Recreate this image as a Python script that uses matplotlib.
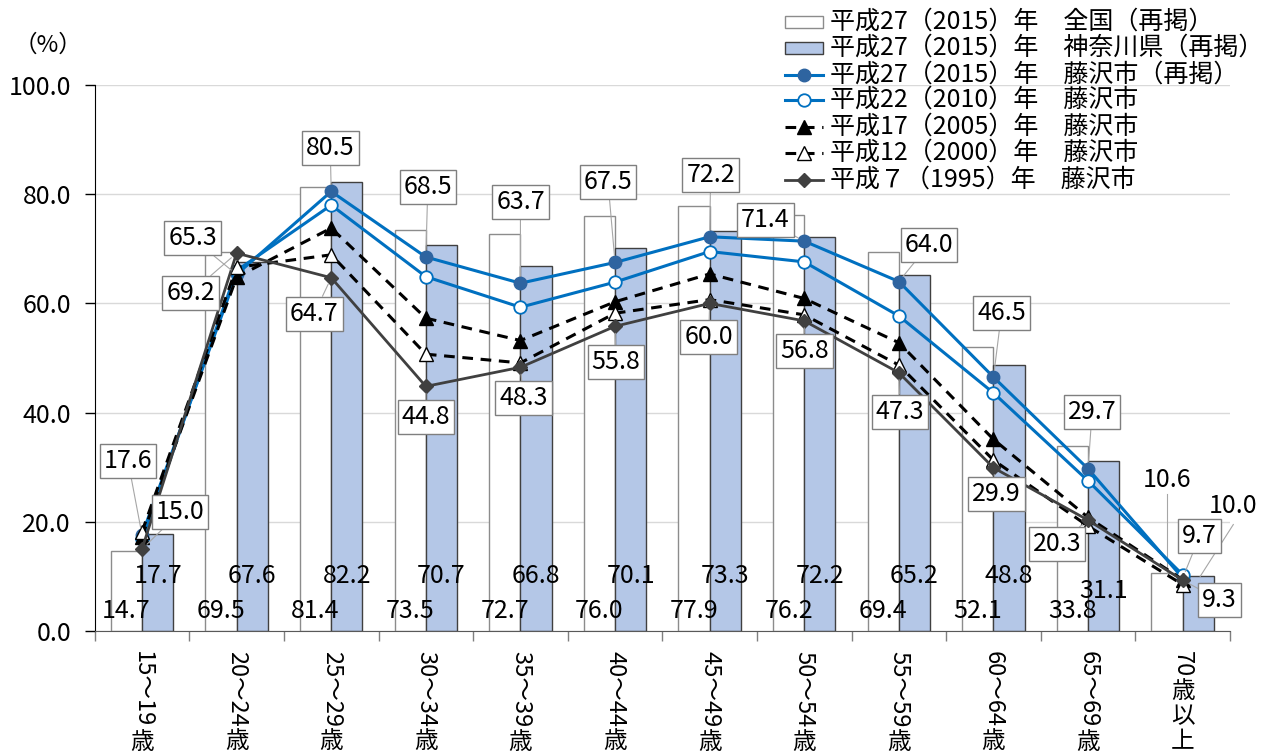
import matplotlib
matplotlib.use("Agg")
import matplotlib.pyplot as plt
from matplotlib.lines import Line2D
from matplotlib.patches import Rectangle
from matplotlib.transforms import IdentityTransform
import numpy as np

plt.rcParams['font.family'] = ['Noto Sans CJK JP', 'DejaVu Sans']

# データ
categories = ["15～19歳", "20～24歳", "25～29歳", "30～34歳", "35～39歳", "40～44歳",
              "45～49歳", "50～54歳", "55～59歳", "60～64歳", "65～69歳", "70歳以上"]
zenkoku_2015 = [14.7, 69.5, 81.4, 73.5, 72.7, 76.0, 77.9, 76.2, 69.4, 52.1, 33.8, 10.6]
kanagawa_2015 = [17.7, 67.6, 82.2, 70.7, 66.8, 70.1, 73.3, 72.2, 65.2, 48.8, 31.1, 10.0]
fujisawa_2015 = [17.6, 65.3, 80.5, 68.5, 63.7, 67.5, 72.2, 71.4, 64.0, 46.5, 29.7, 9.7]
fujisawa_2010 = [16.8, 66.0, 78.0, 64.9, 59.3, 63.9, 69.5, 67.6, 57.7, 43.6, 27.5, 10.3]
fujisawa_2005 = [17.3, 64.8, 73.8, 57.3, 53.2, 60.3, 65.4, 60.9, 52.8, 35.1, 20.8, 9.4]
fujisawa_2000 = [18.2, 66.6, 68.9, 50.7, 49.1, 58.2, 60.7, 57.9, 48.7, 31.3, 19.2, 8.5]
fujisawa_1995 = [15.0, 69.2, 64.7, 44.8, 48.3, 55.8, 60.0, 56.8, 47.3, 29.9, 20.3, 9.3]

legend_labels = ["平成27（2015）年　全国（再掲）",
                 "平成27（2015）年　神奈川県（再掲）",
                 "平成27（2015）年　藤沢市（再掲）",
                 "平成22（2010）年　藤沢市",
                 "平成17（2005）年　藤沢市",
                 "平成12（2000）年　藤沢市",
                 "平成７（1995）年　藤沢市"]

# ラベル位置（レイアウト）
wlab_y = [3.7] * 11 + [27.7]
blab_y = [10.1] * 10 + [7.3, 22.9]
blab_dx = [0.0] * 11 + [0.37]
off_2015 = [(-14, 74), (-44, 36), (-1, 43), (2, 70), (0, 81), (-7, 80),
            (1, 62), (-39, 21), (30, 37), (8, 64), (4, 57), (17, 42)]
off_1995 = [(38, 37), (-46, -40), (-17, -36), (0, -31), (3, -31), (1, -36),
            (-1, -34), (0, -30), (1, -39), (3, -26), (-31, -24), (37, -20)]

FS = 18
W, H = 1269, 752
fig = plt.figure(figsize=(W / 100, H / 100), dpi=100)
ax = fig.add_axes([94.7 / W, 1 - 631 / H, (1230 - 94.7) / W, (631 - 85) / H])

x = np.arange(len(categories))
bw = 0.33
ax.bar(x - bw, zenkoku_2015, bw, align='edge', color='white', edgecolor='#8C8C8C', lw=1, zorder=2)
ax.bar(x, kanagawa_2015, bw, align='edge', color='#B4C7E7', edgecolor='#404040', lw=1, zorder=2)

styles = [
    dict(color='#0070C0', lw=2.2, ls='-', marker='o', ms=9, mfc='#2E64A0', mec='#2E64A0'),
    dict(color='#0070C0', lw=2.2, ls='-', marker='o', ms=9, mfc='white', mec='#0070C0', mew=1.3),
    dict(color='black', lw=2.2, ls=(0, (3.5, 2.5)), marker='^', ms=10, mfc='black', mec='black'),
    dict(color='black', lw=2.2, ls=(0, (3.5, 2.5)), marker='^', ms=10, mfc='white', mec='black', mew=1),
    dict(color='#404040', lw=2.0, ls='-', marker='D', ms=7, mfc='#404040', mec='#404040'),
]
series = [fujisawa_2015, fujisawa_2010, fujisawa_2005, fujisawa_2000, fujisawa_1995]
for s, st in zip(series, styles):
    ax.plot(x, s, zorder=4, **st)

# 棒のラベル
for i in range(len(categories)):
    xw = i - bw / 2
    ax.text(xw, wlab_y[i], f"{zenkoku_2015[i]:.1f}", ha='center', va='center', fontsize=FS, zorder=3)
    if wlab_y[i] > zenkoku_2015[i]:
        ax.plot([xw, xw], [wlab_y[i] - 2.6, zenkoku_2015[i]], color='#A6A6A6', lw=0.8, zorder=3)
    xb = i + bw / 2
    ax.text(xb + blab_dx[i], blab_y[i], f"{kanagawa_2015[i]:.1f}", ha='center', va='center',
            fontsize=FS, zorder=3, clip_on=False)
    if blab_y[i] > kanagawa_2015[i]:
        ax.plot([xb + blab_dx[i], xb + 0.02], [blab_y[i] - 3.4, kanagawa_2015[i]],
                color='#A6A6A6', lw=0.8, zorder=3, clip_on=False)

# 折れ線のラベル
box = dict(boxstyle='square,pad=0.16', fc='white', ec='#7F7F7F', lw=1)
leader = dict(arrowstyle='-', color='#A6A6A6', lw=0.8, shrinkA=0, shrinkB=5)
for s, offs in [(fujisawa_2015, off_2015), (fujisawa_1995, off_1995)]:
    for i, v in enumerate(s):
        ax.annotate(f"{v:.1f}", (i, v), xytext=offs[i], textcoords='offset pixels',
                    ha='center', va='center', fontsize=FS, bbox=box, arrowprops=leader,
                    zorder=6, annotation_clip=False)

ax.set_xlim(-0.5, len(categories) - 0.5)
ax.set_ylim(0, 100)
ax.set_yticks(range(0, 101, 20))
ax.set_yticklabels([f"{v:.1f}" for v in range(0, 101, 20)])
ax.set_xticks(np.arange(-0.5, len(categories), 1))
ax.set_xticklabels([])
ax.tick_params(axis='y', length=7, width=1, color='black', pad=10, labelsize=FS)
ax.tick_params(axis='x', length=7, width=1, color='#7F7F7F')
ax.yaxis.grid(True, color='#D9D9D9', lw=1)
ax.set_axisbelow(True)
for sp in ['top', 'right']:
    ax.spines[sp].set_visible(False)
ax.spines['left'].set_color('black')
ax.spines['bottom'].set_color('#595959')

fig.text(48 / W, 1 - 45 / H, "（%）", ha='center', va='center', fontsize=17)

# 凡例（手描き）
row_y = [22, 48, 75, 100, 127, 153, 180]
for k, lab in enumerate(legend_labels):
    yy = 1 - row_y[k] / H
    if k == 0:
        fig.add_artist(Rectangle((785 / W, yy - 6 / H), 38 / W, 12 / H, transform=fig.transFigure,
                                 fc='white', ec='#8C8C8C', lw=1))
    elif k == 1:
        fig.add_artist(Rectangle((785 / W, yy - 6 / H), 38 / W, 12 / H, transform=fig.transFigure,
                                 fc='#B4C7E7', ec='#404040', lw=1))
    else:
        fig.add_artist(Line2D([785 / W, 804 / W, 823 / W], [yy] * 3, transform=fig.transFigure,
                              markevery=[1], **styles[k - 2]))
    fig.text(830 / W, yy, lab, ha='left', va='center', fontsize=FS)

# 縦書きの横軸ラベル
fig.canvas.draw()
r = fig.canvas.get_renderer()
em = 17 * 100 / 72
for i, lab in enumerate(categories):
    n = 0
    while n < len(lab) and lab[n] in "0123456789～":
        n += 1
    xp = ax.transData.transform((i, 0))[0]
    t = fig.text(xp, H - 651, lab[:n], rotation=-90, ha='center', va='top', fontsize=17,
                 transform=IdentityTransform())
    bb = t.get_window_extent(r)
    yc = bb.y0 - 3 - em / 2
    for ch in lab[n:]:
        fig.text(xp, yc, ch, ha='center', va='center', fontsize=17, transform=IdentityTransform())
        yc -= em + 1.5

fig.savefig('out.png', dpi=100)
